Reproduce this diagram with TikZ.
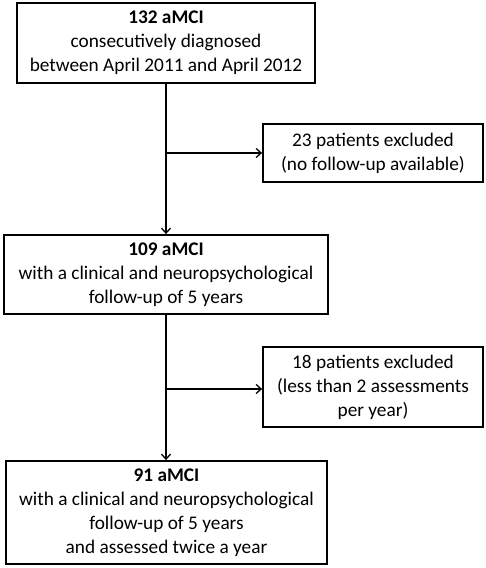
\documentclass[tikz,border=0pt]{standalone}
\usepackage{fontspec}
\setmainfont{Carlito}
\usetikzlibrary{arrows.meta}
\begin{document}
\begin{tikzpicture}[x=1pt,y=-1pt,
  box/.style={draw=black,line width=1.8pt,align=center,inner sep=0pt,font=\fontsize{19.3}{24}\selectfont},
  conn/.style={line width=1.8pt,-{Straight Barb[length=5pt,width=9pt,line width=1.3pt]}}]
\useasboundingbox (0,0) rectangle (486,568);
\node[box,minimum width=298pt,minimum height=80pt] (b1) at (166,43) {\textbf{132 aMCI}\\consecutively diagnosed\\between April 2011 and April 2012};
\node[box,minimum width=220pt,minimum height=58pt] (e1) at (373,153) {23 patients excluded\\(no follow-up available)};
\node[box,minimum width=324pt,minimum height=79pt] (b2) at (166,274.5) {\textbf{109 aMCI}\\with a clinical and neuropsychological\\follow-up of 5 years};
\node[box,minimum width=220pt,minimum height=80pt] (e2) at (373,387) {18 patients excluded\\(less than 2 assessments\\per year)};
\node[box,minimum width=321pt,minimum height=103pt] (b3) at (166.5,512.5) {\textbf{91 aMCI}\\with a clinical and neuropsychological\\follow-up of 5 years\\and assessed twice a year};
\coordinate (j1) at (166,153);
\coordinate (j2) at (166,389);
\draw[conn] (b1.south -| j1) -- (b2.north -| j1);
\draw[conn] (j1) -- (j1 -| e1.west);
\draw[conn] (b2.south -| j2) -- (b3.north -| j2);
\draw[conn] (j2) -- (j2 -| e2.west);
\end{tikzpicture}
\end{document}
